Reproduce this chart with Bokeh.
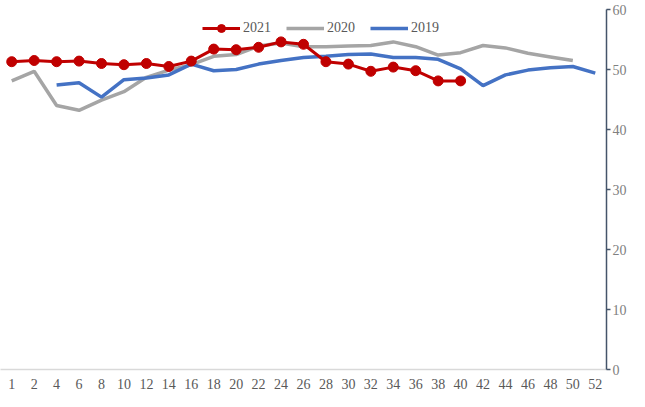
import math
from bokeh.plotting import figure
from bokeh.models import Range1d, Legend, LegendItem, FixedTicker, ColumnDataSource
from bokeh.embed import file_html
from bokeh.resources import INLINE

weeks = ["1", "2", "4", "6", "8", "10", "12", "14", "16", "18", "20", "22", "24", "26",
         "28", "30", "32", "34", "36", "38", "40", "42", "44", "46", "48", "50", "52"]

s2021 = [51.3, 51.5, 51.3, 51.4, 51.0, 50.8, 51.0, 50.5, 51.4, 53.4, 53.3, 53.7, 54.6, 54.2,
         51.3, 50.9, 49.7, 50.4, 49.8, 48.1, 48.1, None, None, None, None, None, None]
s2020 = [48.1, 49.7, 44.0, 43.2, 44.9, 46.3, 48.7, 49.9, 50.8, 52.2, 52.5, 53.9, 54.4, 53.8,
         53.8, 53.9, 54.0, 54.6, 53.8, 52.4, 52.8, 54.0, 53.6, 52.7, 52.1, 51.5, None]
s2019 = [None, None, 47.4, 47.8, 45.4, 48.3, 48.6, 49.1, 50.9, 49.8, 50.0, 50.9, 51.5, 52.0,
         52.2, 52.5, 52.6, 52.0, 52.0, 51.7, 50.1, 47.3, 49.1, 49.9, 50.3, 50.5, 49.4]
y_ticks = [0, 10, 20, 30, 40, 50, 60]

def nanify(a):
    return [float("nan") if v is None else v for v in a]

src = ColumnDataSource(dict(x=weeks, a=nanify(s2021), b=nanify(s2020), c=nanify(s2019)))

FONT = "Liberation Serif"

p = figure(x_range=weeks, y_range=Range1d(0, 60), width=629, height=391,
           output_backend="svg", toolbar_location=None, y_axis_location="right",
           min_border_left=0, min_border_top=9, min_border_right=0, min_border_bottom=0)
p.outline_line_color = None
p.grid.visible = False
p.x_range.range_padding = 0

r20 = p.line("x", "b", source=src, line_color="#A5A5A5", line_width=3.5)
r19 = p.line("x", "c", source=src, line_color="#4472C4", line_width=3.5)
r21 = p.line("x", "a", source=src, line_color="#C00000", line_width=3)
m21 = p.scatter("x", "a", source=src, size=10, fill_color="#C00000", line_color="#C00000")

xa = p.xaxis[0]
xa.axis_line_color = "#D9D9D9"
xa.axis_line_width = 1.5
xa.major_tick_line_color = None
xa.minor_tick_line_color = None
xa.major_label_text_font = FONT
xa.major_label_text_font_size = "14px"
xa.major_label_text_color = "#595959"
xa.major_label_standoff = 3

ya = p.yaxis[0]
ya.ticker = FixedTicker(ticks=y_ticks)
ya.axis_line_color = "#44546A"
ya.axis_line_width = 1.5
ya.major_tick_line_color = "#44546A"
ya.major_tick_line_width = 1.5
ya.major_tick_in = 0
ya.major_tick_out = 4
ya.minor_tick_line_color = None
ya.major_label_text_font = FONT
ya.major_label_text_font_size = "14px"
ya.major_label_text_color = "#808080"
ya.major_label_standoff = 2

legend = Legend(items=[LegendItem(label="2021", renderers=[r21, m21]),
                       LegendItem(label="2020", renderers=[r20]),
                       LegendItem(label="2019", renderers=[r19])],
                orientation="horizontal", location=(202, 331))
legend.background_fill_alpha = 0
legend.border_line_color = None
legend.label_text_font = FONT
legend.label_text_font_size = "14px"
legend.label_text_color = "#595959"
legend.glyph_width = 38
legend.glyph_height = 20
legend.label_standoff = 3
legend.spacing = 15
legend.padding = 0
legend.margin = 0
p.add_layout(legend)

open("out.html", "w").write(file_html(p, INLINE))
